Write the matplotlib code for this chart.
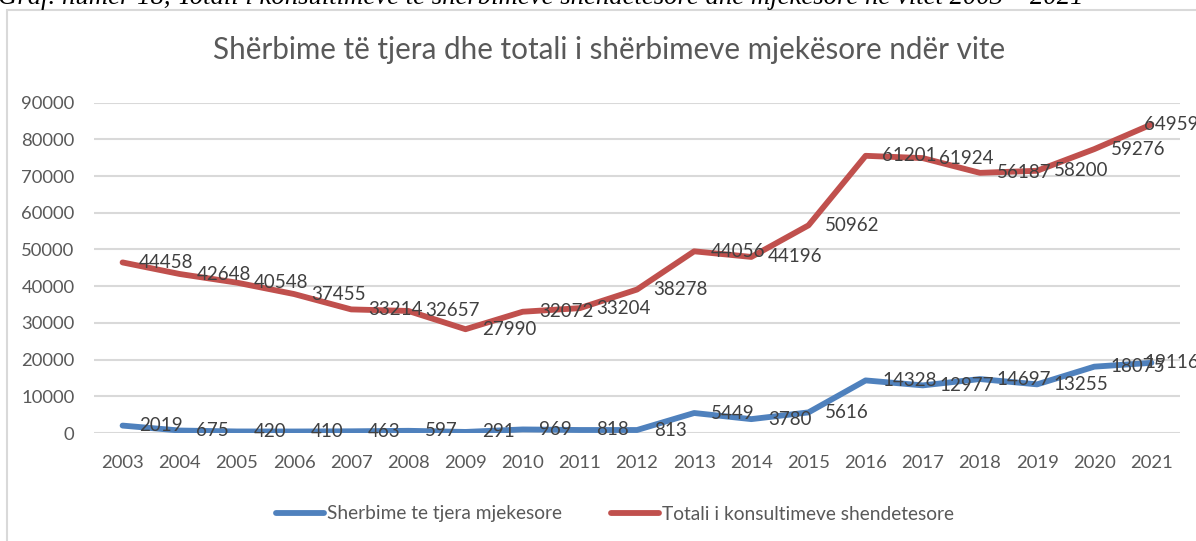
import matplotlib
matplotlib.use("Agg")
import matplotlib.pyplot as plt
from matplotlib.lines import Line2D
from matplotlib.patches import Rectangle

years = ["2003", "2004", "2005", "2006", "2007", "2008", "2009", "2010", "2011", "2012",
         "2013", "2014", "2015", "2016", "2017", "2018", "2019", "2020", "2021"]
sherbime_tjera = [2019, 675, 420, 410, 463, 597, 291, 969, 818, 813,
                  5449, 3780, 5616, 14328, 12977, 14697, 13255, 18075, 19116]
totali_konsultimeve = [44458, 42648, 40548, 37455, 33214, 32657, 27990, 32072, 33204, 38278,
                       44056, 44196, 50962, 61201, 61924, 56187, 58200, 59276, 64959]
y_ticks = [0, 10000, 20000, 30000, 40000, 50000, 60000, 70000, 80000, 90000]

title = "Shërbime të tjera dhe totali i shërbimeve mjekësore ndër vite"
caption = "Graf. numer 18, Totali i konsultimeve të shërbimeve shëndetësore dhe mjekësore në vitet 2003 – 2021"
series_names = ["Sherbime te tjera mjekesore", "Totali i konsultimeve shendetesore"]

BLUE = "#4F81BD"
RED = "#C0504D"
GRAY = "#595959"
LABEL = "#404040"
GRID = "#D9D9D9"
FONT = "Lato"

W, H = 1196, 541
fig = plt.figure(figsize=(W / 100, H / 100), dpi=100)

def fx(px):
    return px / W

def fy(py):
    return 1 - py / H

# chart border (extends past the right and bottom edges)
fig.add_artist(Rectangle((fx(7), fy(560)), fx(1250) - fx(7), fy(10) - fy(560),
                         transform=fig.transFigure, fill=False, edgecolor=GRID, lw=1.5))

# cut-off caption at very top
fig.text(fx(-2), fy(4), caption, ha="left", va="baseline", fontsize=19.3,
         family="Liberation Serif", style="italic", color="black")

ax = fig.add_axes([fx(94), fy(433), fx(1180) - fx(94), fy(102.7) - fy(433)])
x = list(range(len(years)))
stacked = [a + b for a, b in zip(sherbime_tjera, totali_konsultimeve)]

ax.plot(x, sherbime_tjera, color=BLUE, lw=4.2, solid_joinstyle="round",
        solid_capstyle="round", zorder=3)
ax.plot(x, stacked, color=RED, lw=4.2, solid_joinstyle="round",
        solid_capstyle="round", zorder=3)

last = len(years) - 1

def label_offset(i):
    # Excel pulls the last labels back inside the chart area
    return (-5, 0) if i == last else (12, 0)

for xi, v in zip(x, sherbime_tjera):
    ax.annotate(str(v), (xi, v), xytext=label_offset(xi), textcoords="offset points",
                ha="left", va="center", fontsize=13.5, color=LABEL, family=FONT, zorder=5)
for xi, v, s in zip(x, totali_konsultimeve, stacked):
    ax.annotate(str(v), (xi, s), xytext=label_offset(xi), textcoords="offset points",
                ha="left", va="center", fontsize=13.5, color=LABEL, family=FONT, zorder=5)

ax.set_xlim(-0.5, len(years) - 0.5)
ax.set_ylim(0, 90000)
ax.set_yticks(y_ticks)
ax.set_yticklabels([str(t) for t in y_ticks])
ax.set_xticks(x)
ax.set_xticklabels(years)
for lab in ax.get_xticklabels() + ax.get_yticklabels():
    lab.set_family(FONT)
    lab.set_fontsize(13.3)
    lab.set_color(GRAY)
ax.tick_params(axis="both", length=0)
ax.tick_params(axis="y", pad=14)
ax.tick_params(axis="x", pad=16)
ax.grid(axis="y", color=GRID, lw=1.5)
ax.set_axisbelow(True)
for sp in ax.spines.values():
    sp.set_visible(False)

fig.text(fx(609), fy(50), title, ha="center", va="center", fontsize=21.3,
         family=FONT, color=GRAY)

handles = [Line2D([], [], color=BLUE, lw=4.2, solid_capstyle="round"),
           Line2D([], [], color=RED, lw=4.2, solid_capstyle="round")]
fig.legend(handles, series_names, loc="center", bbox_to_anchor=(fx(615), fy(514)),
           ncol=2, frameon=False, prop={"family": FONT, "size": 13.8},
           handlelength=2.5, handletextpad=0.15, columnspacing=2.6, labelcolor=GRAY)

fig.savefig("out.png", dpi=100)
